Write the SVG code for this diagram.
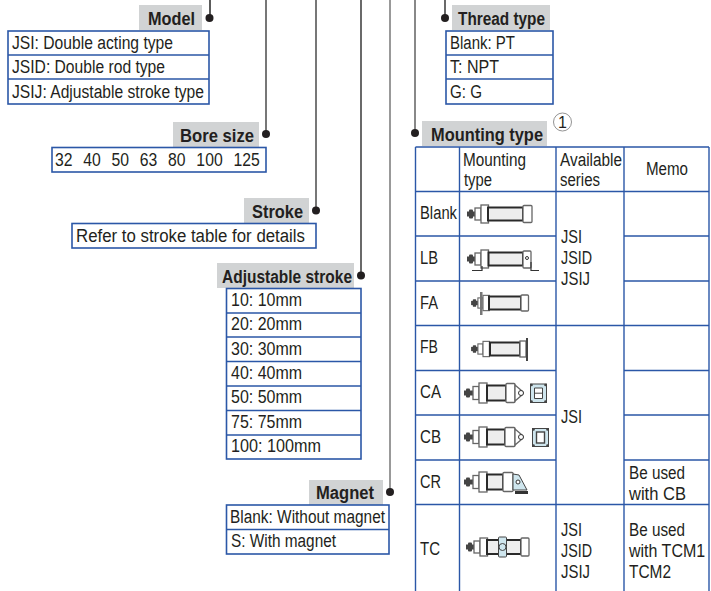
<svg xmlns="http://www.w3.org/2000/svg" width="711" height="591" viewBox="0 0 711 591">
<style>
text{font-family:"Liberation Sans",Arial,sans-serif;font-size:18px;fill:#231f20}
.h{font-weight:bold}
.g{fill:#d1d3d4}
.b{fill:#fff;stroke:#2b57a7;stroke-width:1.6}
.r{stroke:#2b57a7;stroke-width:1.4;fill:none}
.d{fill:#231f20}
.c{fill:none;stroke:#555;stroke-width:1.6}
.m{stroke:#666;stroke-width:1.3;fill:#fff}
.y{stroke:#2a2a2a;stroke-width:2;fill:#eee}
.n{fill:#444}
.t{fill:#cfe6ee;stroke:#444;stroke-width:1}
.k{fill:none;stroke:#333;stroke-width:1.2}
</style>
<defs>
<g id="head">
<rect class="n" x="-14" y="-2.500" width="9" height="5"/><rect class="n" x="-12" y="-4.500" width="4" height="9" rx="1"/>
<rect class="m" x="-6" y="-6" width="6" height="12"/>
<rect class="m" x="0" y="-9" width="7.500" height="18"/>
</g>
<g id="headl">
<rect class="n" x="-15" y="-2.500" width="9" height="5"/><rect class="n" x="-13" y="-4.500" width="4" height="9" rx="1"/>
<rect class="m" x="-6" y="-6.500" width="6" height="13"/>
<rect class="m" x="0" y="-10" width="8" height="20"/>
</g>
</defs>
<g id="connectors">
<path class="c" d="M210 0V18" style="stroke:#333"/>
<path class="c" d="M266 0V134"/>
<path class="c" d="M316 0V210"/>
<path class="c" d="M361 0V275" style="stroke:#444"/>
<path class="c" d="M390 0V492" style="stroke:#999;stroke-width:2"/>
<path class="c" d="M415 0V133" style="stroke:#888;stroke-width:2"/>
<path class="c" d="M445 0V18" style="stroke:#444"/>
</g>
<g id="model">
<rect class="g" x="139" y="5" width="63" height="25"/><text class="h" x="148" y="25" textLength="47" lengthAdjust="spacingAndGlyphs">Model</text>
<circle class="d" cx="209.500" cy="18" r="4"/>
<rect class="b" x="8" y="31" width="201" height="73"/><path class="r" d="M8 55H209M8 79H209"/>
<text x="12" y="49" textLength="161" lengthAdjust="spacingAndGlyphs">JSI: Double acting type</text>
<text x="12" y="73" textLength="153" lengthAdjust="spacingAndGlyphs">JSID: Double rod type</text>
<text x="12" y="98" textLength="192" lengthAdjust="spacingAndGlyphs">JSIJ: Adjustable stroke type</text>
</g>
<g id="bore-size">
<rect class="g" x="173" y="122" width="86" height="25"/><text class="h" x="180" y="142" textLength="74" lengthAdjust="spacingAndGlyphs">Bore size</text>
<circle class="d" cx="266" cy="134" r="4"/>
<rect class="b" x="52" y="147.500" width="214" height="24.500"/>
<text transform="translate(55,166) scale(.875,1)" style="word-spacing:7.300px">32 40 50 63 80 100 125</text>
</g>
<g id="stroke">
<rect class="g" x="244" y="198" width="65" height="25"/><text class="h" x="252" y="218" textLength="51" lengthAdjust="spacingAndGlyphs">Stroke</text>
<circle class="d" cx="316" cy="210.500" r="4"/>
<rect class="b" x="72" y="223.500" width="244" height="24.500"/>
<text x="76" y="242" textLength="229" lengthAdjust="spacingAndGlyphs">Refer to stroke table for details</text>
</g>
<g id="adjustable-stroke">
<rect class="g" x="217" y="263" width="137" height="25"/><text class="h" x="222" y="283" textLength="130" lengthAdjust="spacingAndGlyphs">Adjustable stroke</text>
<circle class="d" cx="361" cy="275.500" r="4"/>
<rect class="b" x="226.500" y="288.500" width="134.500" height="170.500"/><path class="r" d="M226.500 313H361M226.500 337H361M226.500 361.500H361M226.500 386H361M226.500 410.500H361M226.500 435H361"/>
<text x="231" y="306" textLength="71" lengthAdjust="spacingAndGlyphs">10: 10mm</text>
<text x="231" y="330" textLength="71" lengthAdjust="spacingAndGlyphs">20: 20mm</text>
<text x="231" y="355" textLength="71" lengthAdjust="spacingAndGlyphs">30: 30mm</text>
<text x="231" y="379" textLength="71" lengthAdjust="spacingAndGlyphs">40: 40mm</text>
<text x="231" y="403" textLength="71" lengthAdjust="spacingAndGlyphs">50: 50mm</text>
<text x="231" y="428" textLength="71" lengthAdjust="spacingAndGlyphs">75: 75mm</text>
<text x="231" y="452" textLength="90" lengthAdjust="spacingAndGlyphs">100: 100mm</text>
</g>
<g id="magnet">
<rect class="g" x="309" y="480" width="74" height="25"/><text class="h" x="316" y="499" textLength="58" lengthAdjust="spacingAndGlyphs">Magnet</text>
<circle class="d" cx="390" cy="492" r="4"/>
<rect class="b" x="226.500" y="505" width="162.500" height="49"/><path class="r" d="M226.500 529.500H389"/>
<text x="230" y="523" textLength="155" lengthAdjust="spacingAndGlyphs">Blank: Without magnet</text>
<text x="231" y="547" textLength="105" lengthAdjust="spacingAndGlyphs">S: With magnet</text>
</g>
<g id="thread-type">
<rect class="g" x="452" y="5" width="98" height="25"/><text class="h" x="458" y="25" textLength="87" lengthAdjust="spacingAndGlyphs">Thread type</text>
<circle class="d" cx="445" cy="18" r="4"/>
<rect class="b" x="446" y="31" width="107" height="73"/><path class="r" d="M446 55H553M446 79H553"/>
<text x="450" y="49" textLength="65" lengthAdjust="spacingAndGlyphs">Blank: PT</text>
<text x="450" y="73" textLength="49" lengthAdjust="spacingAndGlyphs">T: NPT</text>
<text x="450" y="98" textLength="32" lengthAdjust="spacingAndGlyphs">G: G</text>
</g>
<g id="mounting-type">
<rect class="g" x="422" y="121" width="125" height="25"/><text class="h" x="431" y="141" textLength="112" lengthAdjust="spacingAndGlyphs">Mounting type</text>
<circle class="d" cx="415" cy="133" r="4"/>
<circle cx="562.500" cy="122" r="9" fill="none" stroke="#777" stroke-width="0.8"/><text x="562.500" y="128" text-anchor="middle" style="font-size:16px">1</text>
<path class="r" d="M415.500 147V591M459.500 147V591M556 147V591M624 147V591M709 147V591M415.500 147H709M415.500 191.500H709M415.500 236H556M624 236H709M415.500 281H556M624 281H709M415.500 325.500H709M415.500 370.500H556M624 370.500H709M415.500 415H556M624 415H709M415.500 460H556M624 460H709M415.500 504.500H709"/>
<text x="463" y="166" textLength="63" lengthAdjust="spacingAndGlyphs">Mounting</text>
<text x="464" y="186" textLength="28" lengthAdjust="spacingAndGlyphs">type</text>
<text x="560" y="166" textLength="62" lengthAdjust="spacingAndGlyphs">Available</text>
<text x="560" y="186" textLength="40" lengthAdjust="spacingAndGlyphs">series</text>
<text x="646" y="175" textLength="42" lengthAdjust="spacingAndGlyphs">Memo</text>
<text x="420" y="219" textLength="37" lengthAdjust="spacingAndGlyphs">Blank</text>
<text x="420" y="264" textLength="18" lengthAdjust="spacingAndGlyphs">LB</text>
<text x="420" y="309" textLength="18" lengthAdjust="spacingAndGlyphs">FA</text>
<text x="420" y="353" textLength="18" lengthAdjust="spacingAndGlyphs">FB</text>
<text x="420" y="398" textLength="21" lengthAdjust="spacingAndGlyphs">CA</text>
<text x="420" y="443" textLength="21" lengthAdjust="spacingAndGlyphs">CB</text>
<text x="420" y="488" textLength="21" lengthAdjust="spacingAndGlyphs">CR</text>
<text x="420" y="555" textLength="20" lengthAdjust="spacingAndGlyphs">TC</text>
<text x="561" y="243" textLength="21" lengthAdjust="spacingAndGlyphs">JSI</text><text x="561" y="264" textLength="31" lengthAdjust="spacingAndGlyphs">JSID</text><text x="561" y="285" textLength="29" lengthAdjust="spacingAndGlyphs">JSIJ</text>
<text x="561" y="423" textLength="21" lengthAdjust="spacingAndGlyphs">JSI</text>
<text x="561" y="536" textLength="21" lengthAdjust="spacingAndGlyphs">JSI</text><text x="561" y="557" textLength="31" lengthAdjust="spacingAndGlyphs">JSID</text><text x="561" y="578" textLength="29" lengthAdjust="spacingAndGlyphs">JSIJ</text>
<text x="629" y="479" textLength="56" lengthAdjust="spacingAndGlyphs">Be used</text><text x="629" y="500" textLength="57" lengthAdjust="spacingAndGlyphs">with CB</text>
<text x="629" y="536" textLength="56" lengthAdjust="spacingAndGlyphs">Be used</text><text transform="translate(629,557) scale(.89,1)">with TCM1</text><text x="629" y="578" textLength="42" lengthAdjust="spacingAndGlyphs">TCM2</text>
<use href="#head" x="481" y="214"/><rect class="y" x="488" y="207.500" width="35" height="13"/><rect class="m" x="523" y="205.500" width="9" height="17" rx="1"/>
<use href="#head" x="481" y="259"/><rect class="y" x="488.500" y="252.500" width="34.500" height="13"/><rect class="m" x="523" y="251" width="8" height="17" rx="1"/>
<path class="k" d="M472 270.500H482V266M531 262V270.500H539"/><circle cx="527" cy="258" r="1.500" fill="#fff" stroke="#333"/>
<use href="#head" transform="translate(483,303) scale(.85)"/><rect class="y" x="489" y="296.500" width="32" height="13"/><rect class="m" x="521" y="295" width="7.500" height="16" rx="1"/>
<rect x="480" y="292" width="2.500" height="23" fill="#777"/>
<use href="#head" transform="translate(483,349) scale(.85)"/><rect class="y" x="490" y="342.500" width="30" height="13"/><rect class="m" x="520" y="341" width="6" height="16"/>
<rect x="526" y="338" width="2" height="23" fill="#444"/>
<use href="#headl" x="479" y="393"/><rect class="y" x="487" y="385.500" width="19" height="15"/><rect class="m" x="506" y="383.500" width="9" height="19" rx="1"/>
<path class="m" d="M515 385L522 391A2.500 2.500 0 0 1 522 395L515 401Z"/><circle cx="521" cy="393" r="2.500" fill="#fff" stroke="#333"/>
<rect class="t" x="530.500" y="384" width="16" height="18.500" stroke-width="1.600"/><path d="M534.500 388H542.500V398.500H534.500ZM534.500 393.200H542.500" fill="#fff" stroke="#444"/>
<circle class="n" cx="531.500" cy="385" r="1.300"/><circle class="n" cx="545.500" cy="385" r="1.300"/><circle class="n" cx="531.500" cy="401.500" r="1.300"/><circle class="n" cx="545.500" cy="401.500" r="1.300"/>
<use href="#headl" x="479" y="437"/><rect class="y" x="487" y="429.500" width="18" height="15"/><rect class="m" x="505" y="427.500" width="10" height="19" rx="1"/>
<path class="m" d="M515 429L522 435A2.500 2.500 0 0 1 522 439L515 445Z"/><circle cx="521" cy="437" r="2.500" fill="#fff" stroke="#333"/>
<rect class="t" x="532.500" y="428.500" width="16" height="18" stroke-width="1.600"/><rect x="536.500" y="432" width="8" height="11" fill="#fff" stroke="#444" stroke-width="1.400"/>
<circle class="n" cx="533.500" cy="429.500" r="1.300"/><circle class="n" cx="547.500" cy="429.500" r="1.300"/><circle class="n" cx="533.500" cy="445.500" r="1.300"/><circle class="n" cx="547.500" cy="445.500" r="1.300"/>
<use href="#headl" x="479" y="482"/><rect class="y" x="487" y="474.500" width="16" height="15"/><rect class="m" x="503" y="472.500" width="10" height="19" rx="1"/>
<path class="t" d="M513 474L519 475L527 490H515L513 490Z"/><path d="M515 492.500H528" stroke="#333" stroke-width="3"/><circle cx="518" cy="482" r="2" fill="#fff" stroke="#333"/>
<use href="#head" x="480" y="547"/><rect class="y" x="487" y="540" width="34" height="14"/><rect class="m" x="521" y="538" width="8" height="18" rx="1"/>
<rect class="t" x="498.500" y="537" width="8" height="20" rx="1" stroke="#888"/><circle cx="502.500" cy="547" r="3.500" fill="none" stroke="#444"/>
</g>
</svg>
